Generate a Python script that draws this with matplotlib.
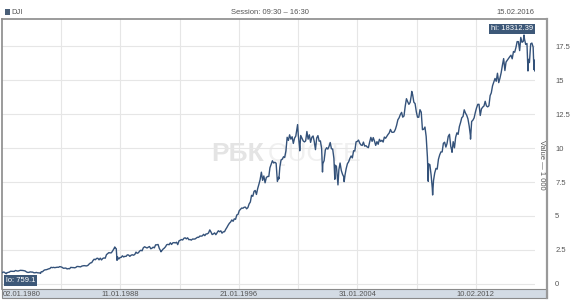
import numpy as np
import pandas as pd
import matplotlib
matplotlib.use('Agg')
import matplotlib.pyplot as plt
from matplotlib.lines import Line2D
from matplotlib.patches import Rectangle

plt.rcParams['font.family'] = ['Liberation Sans', 'DejaVu Sans']

# DJI month-end closes, 1980-01 .. 2016-01
monthly_close = [
    876, 863, 786, 817, 851, 868, 935, 933, 932, 925, 993, 964,
    947, 974, 1004, 998, 992, 977, 953, 882, 850, 853, 889, 875,
    871, 824, 823, 848, 820, 812, 809, 901, 896, 992, 1039, 1047,
    1076, 1113, 1130, 1226, 1200, 1222, 1199, 1216, 1233, 1225, 1276, 1259,
    1221, 1155, 1165, 1171, 1105, 1132, 1115, 1224, 1207, 1207, 1189, 1212,
    1287, 1284, 1267, 1258, 1315, 1336, 1348, 1334, 1329, 1375, 1472, 1547,
    1571, 1709, 1819, 1784, 1877, 1893, 1775, 1898, 1768, 1878, 1914, 1896,
    2158, 2224, 2305, 2286, 2292, 2419, 2572, 2663, 2596, 1994, 1834, 1939,
    1958, 2072, 1988, 2032, 2031, 2142, 2129, 2032, 2113, 2149, 2115, 2169,
    2342, 2258, 2294, 2419, 2480, 2440, 2661, 2737, 2693, 2645, 2706, 2753,
    2591, 2627, 2707, 2657, 2877, 2881, 2905, 2614, 2453, 2442, 2560, 2634,
    2736, 2882, 2914, 2888, 3028, 2907, 3025, 3044, 3017, 3069, 2895, 3169,
    3223, 3268, 3236, 3359, 3397, 3319, 3394, 3257, 3272, 3226, 3306, 3301,
    3310, 3371, 3435, 3428, 3527, 3516, 3540, 3651, 3555, 3681, 3684, 3754,
    3978, 3832, 3636, 3682, 3758, 3625, 3765, 3913, 3843, 3908, 3739, 3834,
    3844, 4011, 4158, 4321, 4465, 4556, 4709, 4611, 4789, 4756, 5075, 5117,
    5395, 5486, 5587, 5569, 5643, 5655, 5529, 5616, 5882, 6029, 6522, 6448,
    6813, 6878, 6584, 7009, 7331, 7673, 8223, 7622, 7945, 7442, 7823, 7908,
    7907, 8546, 8800, 9063, 8900, 8952, 8883, 7539, 7843, 8592, 9117, 9181,
    9359, 9307, 9786, 10789, 10560, 10971, 10655, 10829, 10337, 10730, 10878, 11497,
    10941, 10128, 10922, 10734, 10522, 10448, 10522, 11215, 10651, 10971, 10415, 10787,
    10887, 10495, 9879, 10735, 10912, 10502, 10523, 9950, 8848, 9075, 9852, 10022,
    9920, 10106, 10404, 9946, 9925, 9243, 8737, 8664, 7592, 8397, 8896, 8342,
    8054, 7891, 7992, 8480, 8850, 8985, 9234, 9416, 9275, 9801, 9782, 10454,
    10488, 10584, 10358, 10226, 10188, 10435, 10140, 10174, 10080, 10027, 10428, 10783,
    10490, 10766, 10504, 10193, 10467, 10275, 10641, 10482, 10569, 10440, 10806, 10718,
    10865, 10993, 11109, 11367, 11168, 11150, 11186, 11381, 11679, 12081, 12221, 12463,
    12622, 12269, 12354, 13063, 13628, 13409, 13212, 13358, 13896, 13930, 13372, 13265,
    12650, 12266, 12263, 12820, 12638, 11350, 11378, 11544, 10851, 9325, 8829, 8776,
    8001, 7063, 7609, 8168, 8500, 8447, 9172, 9496, 9712, 9713, 10345, 10428,
    10067, 10325, 10857, 11009, 10137, 9774, 10466, 10015, 10788, 11118, 11006, 11578,
    11892, 12226, 12320, 12811, 12570, 12414, 12143, 11614, 10913, 11955, 12046, 12218,
    12633, 12952, 13212, 13214, 12393, 12880, 13009, 13091, 13437, 13096, 13026, 13104,
    13861, 14054, 14579, 14840, 15116, 14910, 15500, 14810, 15130, 15546, 16086, 16577,
    15699, 16322, 16458, 16581, 16717, 16827, 16563, 17098, 17043, 17391, 17828, 17823,
    17165, 18133, 17776, 17841, 18011, 17620, 17690, 16528, 16285, 17664, 17720, 17425,
    16466,
]

# intra-month turning points seen on the chart
extreme_dates = [
    '1980-01-02', '1980-04-21', '1982-08-12', '1987-08-25', '1987-10-19',
    '1990-10-11', '1998-10-08', '2000-01-14', '2000-03-07', '2001-09-21',
    '2002-07-23', '2002-10-09', '2003-03-11', '2007-10-09', '2008-11-20',
    '2009-03-09', '2010-07-02', '2011-10-03', '2015-05-19', '2015-08-25',
    '2016-01-20', '2016-02-11', '2016-02-12',
]
extreme_values = [
    824.6, 759.1, 776.9, 2722, 1739,
    2365, 7731, 11723, 9796, 8236,
    7702, 7286, 7524, 14165, 7552,
    6547, 9686, 10655, 18312.39, 15666,
    15767, 15660, 15974,
]

date_ticks = ['1980-01-02', '1988-01-11', '1996-01-21', '2004-01-31', '2012-02-10']
grid_dates = ['1984-01-07', '1988-01-11', '1992-01-16', '1996-01-21',
              '2000-01-26', '2004-01-31', '2008-02-05', '2012-02-10']
y_ticks = [0, 2.5, 5, 7.5, 10, 12.5, 15, 17.5]
x_start, x_end = '1980-01-02', '2016-02-15'

s = pd.concat([
    pd.Series(monthly_close, index=pd.date_range('1980-01-31', periods=len(monthly_close), freq='ME')),
    pd.Series(extreme_values, index=pd.to_datetime(extreme_dates)),
]).sort_index() / 1000.0

W, H = 585, 301
fig = plt.figure(figsize=(W / 100, H / 100), dpi=100)

def fx(px):
    return px / W

def fy(py):
    return 1 - py / H

# main plot area: x 2..535, y 19..289
ax = fig.add_axes([fx(2), fy(289), fx(535) - fx(2), fy(19) - fy(289)])
ax.patch.set_alpha(0)
ax.set_xlim(pd.Timestamp(x_start), pd.Timestamp(x_end))
ax.set_ylim(-0.37, 19.49)

for gd in grid_dates:
    ax.axvline(pd.Timestamp(gd), color='#e6e6e6', lw=0.8, zorder=0)
for yt in y_ticks:
    ax.axhline(yt, color='#e6e6e6', lw=0.8, zorder=0)

ax.plot(s.index, s.values, color='#34527a', lw=1.0, zorder=3)

for side in ['top', 'right', 'bottom']:
    ax.spines[side].set_visible(False)
ax.spines['left'].set_color('#8a8a8a')
ax.spines['left'].set_linewidth(1.2)
ax.set_xticks([])
ax.yaxis.tick_right()
ax.set_yticks(y_ticks)
ax.set_yticklabels([('%g' % v) for v in y_ticks])
ax.tick_params(axis='y', length=0, pad=14.5, labelsize=5.5, labelcolor='#555555')

# hi / lo boxes
lo_i = s.values.argmin()
hi_i = s.values.argmax()
box = dict(boxstyle='square,pad=0.25', fc='#3d5878', ec='none')
ax.annotate('lo: %.1f' % (s.values[lo_i] * 1000), (s.index[lo_i], s.values[lo_i]),
            xytext=(fx(6), fy(280.5)), textcoords='figure fraction',
            fontsize=5.5, color='white', va='center', ha='left', bbox=box)
ax.annotate('hi: %.2f' % (s.values[hi_i] * 1000), (s.index[hi_i], s.values[hi_i]),
            xytext=(fx(533), fy(29)), textcoords='figure fraction',
            fontsize=5.5, color='white', va='center', ha='right', bbox=box)

# frame: top line and right line
fig.add_artist(Line2D([fx(2), fx(547)], [fy(19), fy(19)], color='#8a8a8a', lw=1.2))
fig.add_artist(Line2D([fx(547), fx(547)], [fy(19), fy(298)], color='#999999', lw=1.6))

# date band
fig.add_artist(Rectangle((fx(2), fy(298)), fx(547) - fx(2), fy(289) - fy(298),
                         fc='#d3dbe4', ec='#8a8a8a', lw=0.8))
t0 = pd.Timestamp(x_start)
span = (pd.Timestamp(x_end) - t0).days
for i, d in enumerate(date_ticks):
    xp = 2 + (pd.Timestamp(d) - t0).days / span * 533
    lbl = pd.Timestamp(d).strftime('%d.%m.%Y')
    fig.text(fx(xp + 1 if i == 0 else xp), fy(294), lbl, fontsize=5.5, color='#555555',
             ha='left' if i == 0 else 'center', va='center')

# header
fig.add_artist(Rectangle((fx(5), fy(15)), fx(5), fy(9) - fy(15), fc='#4a5f78', ec='none'))
fig.text(fx(11), fy(12), 'DJI', fontsize=5.5, color='#555555', va='center')
fig.text(fx(270), fy(12), 'Session: 09:30 \u2013 16:30', fontsize=5.5, color='#555555',
         ha='center', va='center')
fig.text(fx(534), fy(12), '15.02.2016', fontsize=5.5, color='#555555', ha='right', va='center')

fig.text(fx(541), fy(165), 'Value \u2014 1 000', fontsize=5.5, color='#555555',
         rotation=270, ha='center', va='center')

# watermark, behind the line
fig.text(fx(264), fy(154), 'РБК', fontsize=19, fontweight='bold', color='#e4e4e4',
         ha='right', va='center', zorder=-1)
fig.text(fx(268), fy(154), 'QUOTE', fontsize=19, color='#f0f0f0',
         ha='left', va='center', zorder=-1)

fig.savefig('out.png', dpi=100)
